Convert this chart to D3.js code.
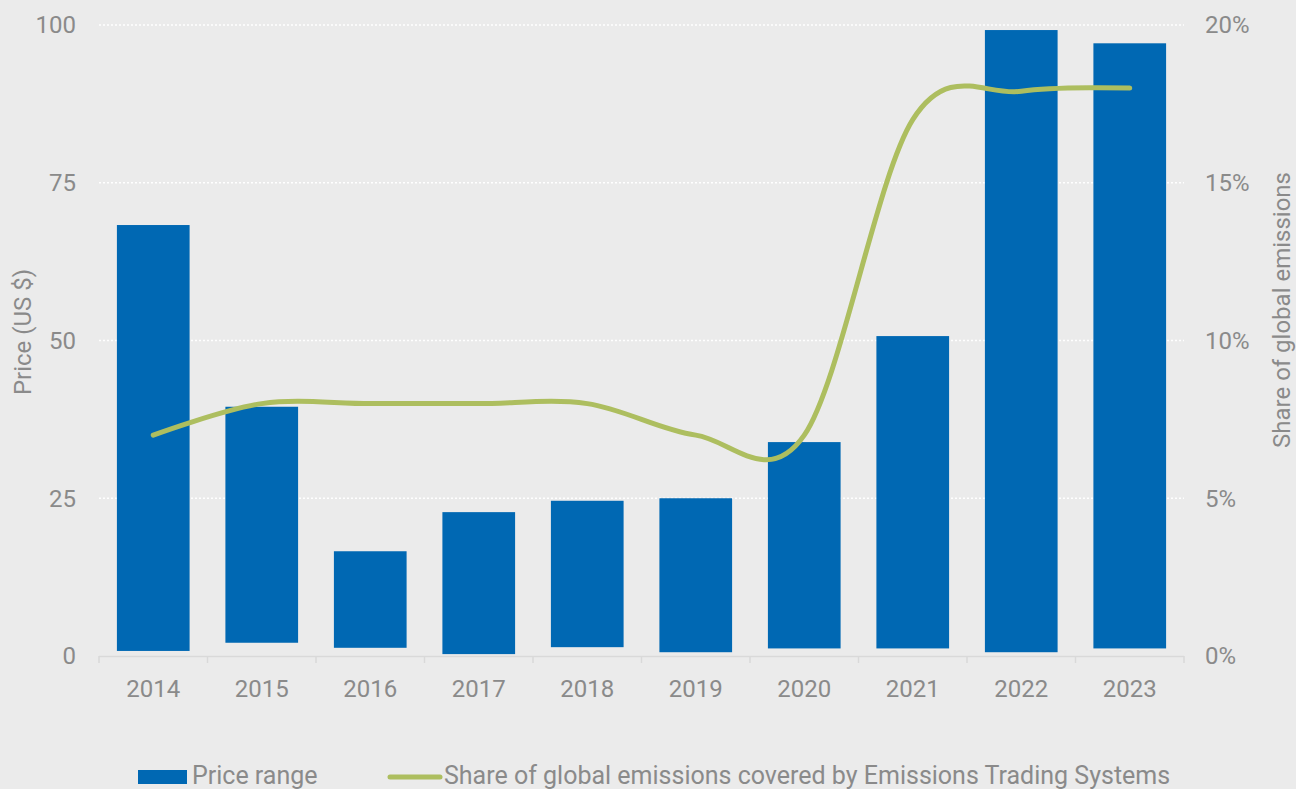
<!DOCTYPE html>
<html>
<head>
<meta charset="utf-8">
<script src="https://cdn.jsdelivr.net/npm/d3@7"></script>
<style>
  html, body { margin: 0; padding: 0; background: #ebebeb; }
  svg { display: block; font-family: Roboto, sans-serif; }
</style>
</head>
<body>
<div class="chart"></div>
<script>
const years = ["2014", "2015", "2016", "2017", "2018", "2019", "2020", "2021", "2022", "2023"];
const priceLow = [0.8, 2.1, 1.3, 0.3, 1.4, 0.6, 1.2, 1.2, 0.6, 1.2];
const priceHigh = [68.3, 39.5, 16.6, 22.8, 24.6, 25.0, 33.9, 50.7, 99.2, 97.1];
const share = [7, 8, 8, 8, 8, 7, 7, 17, 17.9, 18];
const priceTicks = [0, 25, 50, 75, 100];
const shareTicks = [0, 5, 10, 15, 20];

const width = 1296;
const height = 789;
const textColor = "#8a8a8a";
const barColor = "#0068b3";
const lineColor = "#adbe5f";

const svg = d3.select(".chart").append("svg")
  .attr("width", width)
  .attr("height", height);

svg.append("rect")
  .attr("width", width)
  .attr("height", height)
  .attr("fill", "#ebebeb");

const x = d3.scaleBand().domain(years).range([99, 1184])
  .paddingInner(0.33).paddingOuter(0.165);
const y = d3.scaleLinear().domain([0, 100]).range([656, 25]);
const y2 = d3.scaleLinear().domain([0, 20]).range([656, 25]);

// grid lines
svg.append("g")
  .selectAll("line")
  .data(priceTicks.filter((d) => d > 0)).enter()
  .append("line")
    .attr("x1", 99)
    .attr("x2", 1184)
    .attr("y1", (d) => y(d))
    .attr("y2", (d) => y(d))
    .attr("stroke", "#ffffff")
    .attr("stroke-width", 1.5)
    .attr("stroke-dasharray", "2,2");

// bars
svg.append("g")
  .selectAll("rect")
  .data(years).enter()
  .append("rect")
    .attr("x", (d) => x(d))
    .attr("width", x.bandwidth())
    .attr("y", (d, i) => y(priceHigh[i]))
    .attr("height", (d, i) => y(priceLow[i]) - y(priceHigh[i]))
    .attr("fill", barColor);

// x axis
const step = x.step();
const bounds = d3.range(years.length + 1).map((i) => 99 + i * step);
const xAxis = svg.append("g");
xAxis.append("line")
  .attr("x1", 99).attr("x2", 1184)
  .attr("y1", 656.5).attr("y2", 656.5)
  .attr("stroke", "#d9d9d9").attr("stroke-width", 1.5);
xAxis.selectAll(".tick")
  .data(bounds).enter()
  .append("line")
    .attr("x1", (d) => d).attr("x2", (d) => d)
    .attr("y1", 656).attr("y2", 663)
    .attr("stroke", "#d9d9d9").attr("stroke-width", 1.5);
xAxis.selectAll("text")
  .data(years).enter()
  .append("text")
    .attr("x", (d) => x(d) + x.bandwidth() / 2)
    .attr("y", 697)
    .attr("text-anchor", "middle")
    .attr("font-size", 24)
    .attr("fill", textColor)
    .text((d) => d);

// left axis labels
svg.append("g")
  .selectAll("text")
  .data(priceTicks).enter()
  .append("text")
    .attr("x", 76)
    .attr("y", (d) => y(d))
    .attr("dy", "0.35em")
    .attr("text-anchor", "end")
    .attr("font-size", 24)
    .attr("fill", textColor)
    .text((d) => d);

// right axis labels
svg.append("g")
  .selectAll("text")
  .data(shareTicks).enter()
  .append("text")
    .attr("x", 1205)
    .attr("y", (d) => y2(d))
    .attr("dy", "0.35em")
    .attr("text-anchor", "start")
    .attr("font-size", 24)
    .attr("fill", textColor)
    .text((d) => d + "%");

// axis titles
svg.append("text")
  .attr("transform", "translate(31, 332) rotate(-90)")
  .attr("text-anchor", "middle")
  .attr("font-size", 24)
  .attr("fill", textColor)
  .text("Price (US $)");

svg.append("text")
  .attr("transform", "translate(1290, 310) rotate(-90)")
  .attr("text-anchor", "middle")
  .attr("font-size", 24)
  .attr("fill", textColor)
  .text("Share of global emissions");

// share line
const line = d3.line()
  .x((d, i) => x(years[i]) + x.bandwidth() / 2)
  .y((d) => y2(d))
  .curve(d3.curveCatmullRom.alpha(0));

svg.append("path")
  .datum(share)
  .attr("d", line)
  .attr("fill", "none")
  .attr("stroke", lineColor)
  .attr("stroke-width", 5)
  .attr("stroke-linecap", "round");

// legend
const legend = svg.append("g").attr("class", "legend");
legend.append("rect")
  .attr("x", 138).attr("y", 770)
  .attr("width", 49).attr("height", 14)
  .attr("fill", barColor);
legend.append("text")
  .attr("x", 192).attr("y", 784)
  .attr("font-size", 25)
  .attr("fill", textColor)
  .text("Price range");
legend.append("line")
  .attr("x1", 390).attr("x2", 440)
  .attr("y1", 777).attr("y2", 777)
  .attr("stroke", lineColor)
  .attr("stroke-width", 5)
  .attr("stroke-linecap", "round");
legend.append("text")
  .attr("x", 444).attr("y", 784)
  .attr("font-size", 25)
  .attr("fill", textColor)
  .text("Share of global emissions covered by Emissions Trading Systems");
</script>
</body>
</html>
